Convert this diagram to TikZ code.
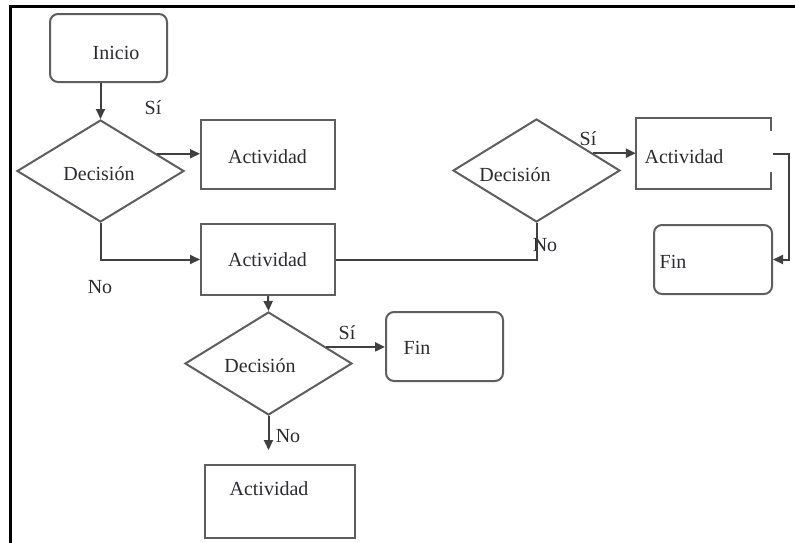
\documentclass[tikz,border=0pt]{standalone}
\usepackage{fontspec}
\setmainfont{Liberation Serif}
\usetikzlibrary{shapes.geometric,arrows.meta}
\definecolor{edge}{HTML}{5E5E5E}
\definecolor{ink}{HTML}{2B2B33}
\begin{document}
\begin{tikzpicture}[x=1pt,y=-1pt,
  shapeline/.style={draw=edge,line width=2pt},
  actbox/.style={shapeline,rectangle,inner sep=0pt},
  endbox/.style={shapeline,rectangle,rounded corners=8pt,inner sep=0pt},
  decbox/.style={shapeline,diamond,inner sep=0pt,aspect=1.6},
  txt/.style={text=ink,font=\fontsize{20}{22}\selectfont,inner sep=0pt},
  wire/.style={draw=black!75,line width=2pt},
  flow/.style={wire,-{Triangle[length=10pt,width=9pt]}}]

% page and frame
\useasboundingbox (0,0) rectangle (795,542);
\fill[white] (0,0) rectangle (795,542);
\draw[line width=3pt,line cap=rect] (10,545) -- (10,6) -- (797,6);

% shapes
\node[endbox,minimum width=117pt,minimum height=68pt] (inicio) at (108.5,48) {};
\node[decbox,minimum width=167pt,minimum height=102pt] (d1) at (100.5,171) {};
\node[actbox,minimum width=134pt,minimum height=69pt] (a1) at (268,154.5) {};
\node[actbox,minimum width=134pt,minimum height=71pt] (a2) at (268,259.5) {};
\node[decbox,minimum width=167pt,minimum height=103pt] (d2) at (536.5,170.5) {};
\node[minimum width=135pt,minimum height=71pt,inner sep=0pt] (a3) at (703.5,153.5) {};
\node[endbox,minimum width=118pt,minimum height=69pt] (fin2) at (713,259.5) {};
\node[decbox,minimum width=167pt,minimum height=103pt] (d3) at (268.5,363.5) {};
\node[endbox,minimum width=117pt,minimum height=69pt] (fin1) at (444.5,346.5) {};
\node[actbox,minimum width=150pt,minimum height=73pt] (a4) at (280,501.5) {};

% activity box whose right side is open where the connector leaves
\draw[shapeline] ([yshift=-13pt]a3.east |- a3.north) -- (a3.north east) -- (a3.north west)
  -- (a3.south west) -- (a3.south east) -- ([yshift=17pt]a3.east |- a3.south);

% texts
\node[txt] (tinicio) at (116,53) {Inicio};
\node[txt] (td1) at (99,174) {Decisión};
\node[txt] (ta1) at (267.5,157) {Actividad};
\node[txt] (ta2) at (267.5,260) {Actividad};
\node[txt] (td2) at (515,175) {Decisión};
\node[txt] (ta3) at (684,157) {Actividad};
\node[txt] (tfin2) at (673,262) {Fin};
\node[txt] (td3) at (260,366) {Decisión};
\node[txt] (tfin1) at (417,348) {Fin};
\node[txt] (ta4) at (269,489) {Actividad};

% branch labels
\node[txt] (si1) at (153,108) {Sí};
\node[txt] (no1) at (100,287) {No};
\node[txt] (si2) at (588,139) {Sí};
\node[txt] (no2) at (545,245) {No};
\node[txt] (si3) at (347,333) {Sí};
\node[txt] (no3) at (288,436) {No};

% connectors
\coordinate (d3end) at (268.5,450);
\draw[flow] (d1.north |- inicio.south) -- (d1.north);
\draw[flow] (d1.17) -- (d1.17 -| a1.west);
\draw[flow] (d1.south) |- (a2.west);
\draw[wire] (a2.east) -| (d2.south);
\draw[flow] (d2.17) -- (d2.17 -| a3.west);
\draw[flow] ([xshift=2pt]a3.east) -- ++(16,0) |- (fin2.east);
\draw[flow] (a2.south) -- (d3.north);
\draw[flow] (d3.16) -- (d3.16 -| fin1.west);
\draw[flow] (d3.south) -- (d3end);
\end{tikzpicture}
\end{document}
